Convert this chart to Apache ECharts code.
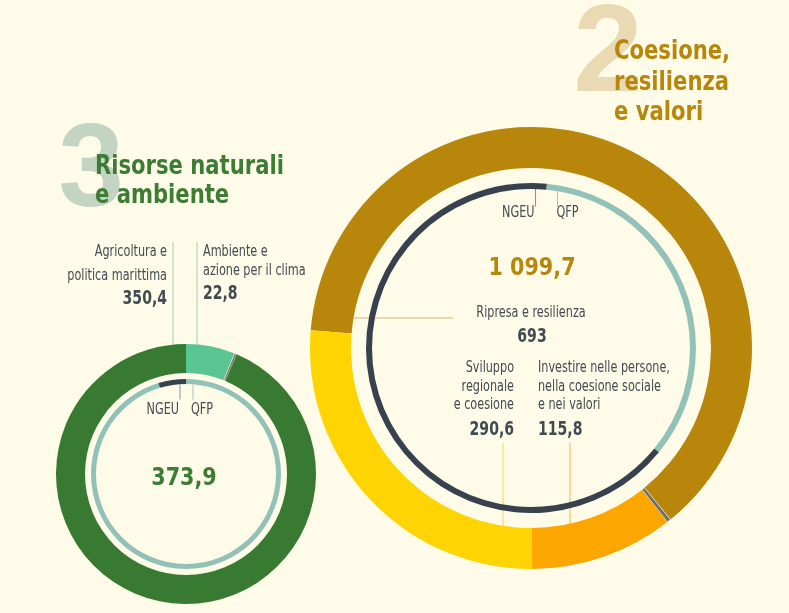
<!DOCTYPE html>
<html style="height: 100%">
<head>
    <meta charset="utf-8">
    <title>Coesione, resilienza e valori - Risorse naturali e ambiente</title>
</head>
<body style="height: 100%; margin: 0; background: #fefce8">
    <div id="container" style="width: 789px; height: 613px"></div>
    <script type="text/javascript" src="https://cdn.jsdelivr.net/npm/echarts@6/dist/echarts.min.js"></script>
    <script type="text/javascript">
        // rubrica 2 - anello esterno (miliardi di euro)
        var cohNames = ['Ripresa e resilienza', 'Altro', 'Investire nelle persone, nella coesione sociale e nei valori', 'Sviluppo regionale e coesione'];
        var cohValues = [693, 0.3, 115.8, 290.6];
        var cohTotal = 1099.7;
        // rubrica 2 - anello interno
        var cohFundNames = ['QFP', 'NGEU'];
        var cohFundValues = [377.8, 721.9];

        // rubrica 3 - anello esterno
        var natNames = ['Ambiente e azione per il clima', 'Altro', 'Agricoltura e politica marittima'];
        var natValues = [22.8, 0.7, 350.4];
        var natTotal = 373.9;
        // rubrica 3 - anello interno
        var natFundNames = ['QFP', 'NGEU'];
        var natFundValues = [356.4, 17.5];

        var dom = document.getElementById("container");
        var myChart = echarts.init(dom);

        var FONT = "'Liberation Sans Narrow', 'DejaVu Sans Condensed', 'Roboto Condensed', sans-serif";
        var WIDE = "'Liberation Sans', 'DejaVu Sans', sans-serif";
        var TXT = '#424a52';

        // geometria
        var R = {cx: 531, cy: 348, r0: 180, r1: 221, t0: 159, t1: 165, start: 175.4, fundStart: 84.5};
        var L = {cx: 186, cy: 474, r0: 101, r1: 130, t0: 90, t1: 95, start: 90, fundStart: 90};

        function fmt(v) {
            var s = String(v).replace('.', ',');
            var parts = s.split(',');
            parts[0] = parts[0].replace(/\B(?=(\d{3})+(?!\d))/g, ' ');
            return parts.join(',');
        }

        function pieData(names, values, colors) {
            return values.map(function (v, i) {
                var item = {name: names[i], value: v, itemStyle: {color: colors[i]}};
                if (names[i] === 'Altro') {
                    item.itemStyle.borderColor = '#f3f1dd';
                    item.itemStyle.borderWidth = 0.7;
                }
                return item;
            });
        }

        function ring(g, radius, start, data) {
            return {
                type: 'pie',
                center: [g.cx, g.cy],
                radius: radius,
                startAngle: start,
                clockwise: true,
                minAngle: 1,
                silent: true,
                avoidLabelOverlap: false,
                label: {show: false},
                labelLine: {show: false},
                emphasis: {disabled: true},
                data: data
            };
        }

        // testo compresso orizzontalmente (il carattere originale e' condensato)
        function txt(x, y, text, size, color, align, bold, sx, family) {
            return {
                type: 'text', x: x, y: y, scaleX: sx || 1, silent: true,
                style: {
                    text: text, fill: color, textAlign: align || 'left', textVerticalAlign: 'middle',
                    font: (bold ? 'bold ' : '') + size + 'px ' + (family || FONT)
                }
            };
        }
        function label(x, y, text, align) {
            return txt(x, y, text, 16, TXT, align, false, 0.78);
        }
        function num(x, y, text, align) {
            return txt(x, y, text, 20, TXT, align, true, 0.78);
        }
        function title(x, y, text, color) {
            return txt(x, y, text, 27, color, 'left', true, 0.87);
        }

        function line(x1, y1, x2, y2, color) {
            return {
                type: 'line', silent: true,
                shape: {x1: x1, y1: y1, x2: x2, y2: y2},
                style: {stroke: color, lineWidth: 1}
            };
        }

        // y del bordo dell'anello a distanza orizzontale dx dal centro
        function ringY(g, r, dx, sign) {
            return g.cy + sign * Math.sqrt(r * r - dx * dx);
        }

        // punto di giunzione QFP/NGEU sull'anello interno
        function junction(g, start) {
            var a = (90 - start) * Math.PI / 180;
            var r = (g.t0 + g.t1) / 2;
            return [g.cx + r * Math.sin(a), g.cy - r * Math.cos(a)];
        }

        var jr = junction(R, R.fundStart);
        var jl = junction(L, L.fundStart);

        var graphic = [
            // titoli
            txt(608, 57, '2', 125, '#eadab3', 'center', true, 1, WIDE),
            title(614, 52, 'Coesione,', '#b8860b'),
            title(614, 83, 'resilienza', '#b8860b'),
            title(614, 113, 'e valori', '#b8860b'),
            txt(91, 173, '3', 118, '#c4d4c3', 'center', true, 1, WIDE),
            title(95, 167, 'Risorse naturali', '#3c7c33'),
            title(95, 196, 'e ambiente', '#3c7c33'),

            // rubrica 2
            txt(R.cx + 1, 268, fmt(cohTotal), 25, '#b8860b', 'center', true, 0.92),
            label(jr[0] - 12, 213, cohFundNames[1], 'right'),
            label(jr[0] + 10, 213, cohFundNames[0], 'left'),
            line(jr[0] - 11, jr[1] + 2, jr[0] - 11, jr[1] + 20, '#8a9096'),
            line(jr[0] + 11, jr[1] + 2, jr[0] + 11, jr[1] + 20, '#9cc6bc'),

            label(R.cx, 313, cohNames[0], 'center'),
            num(R.cx + 1, 337, fmt(cohValues[0]), 'center'),
            line(R.cx - Math.sqrt(R.r0 * R.r0 - 30 * 30), 318, 453, 318, '#d3b77a'),

            label(514, 368, 'Sviluppo', 'right'),
            label(514, 387, 'regionale', 'right'),
            label(514, 405, 'e coesione', 'right'),
            num(514, 430, fmt(cohValues[3]), 'right'),
            line(503, 443, 503, ringY(R, R.r0, 503 - R.cx, 1), '#f3d45a'),

            label(538, 368, 'Investire nelle persone,', 'left'),
            label(538, 387, 'nella coesione sociale', 'left'),
            label(538, 405, 'e nei valori', 'left'),
            num(538, 430, fmt(cohValues[2]), 'left'),
            line(570, 443, 570, ringY(R, R.r0, 570 - R.cx, 1), '#f6b545'),

            // rubrica 3
            txt(L.cx - 2, 478, fmt(natTotal), 25, '#3c7c33', 'center', true, 0.92),
            label(jl[0] - 7, 410, natFundNames[1], 'right'),
            label(jl[0] + 5, 410, natFundNames[0], 'left'),
            line(jl[0] - 6, jl[1] + 3, jl[0] - 6, jl[1] + 18, '#8a9096'),
            line(jl[0] + 7, jl[1] + 3, jl[0] + 7, jl[1] + 18, '#9cc6bc'),

            label(167, 252, 'Agricoltura e', 'right'),
            label(167, 276, 'politica marittima', 'right'),
            num(167, 299, fmt(natValues[2]), 'right'),
            line(173, 242, 173, ringY(L, L.r1, 173 - L.cx, -1), '#a9cdb6'),

            label(203, 252, 'Ambiente e', 'left'),
            label(203, 271, 'azione per il clima', 'left'),
            num(203, 294, fmt(natValues[0]), 'left'),
            line(197, 242, 197, ringY(L, L.r1, 197 - L.cx, -1), '#a9cdb6')
        ];

        var option = {
            backgroundColor: '#fefce8',
            animation: false,
            tooltip: {show: false},
            series: [
                ring(R, [R.r0, R.r1], R.start, pieData(cohNames, cohValues, ['#b7860a', '#6e6e6e', '#fea600', '#fed402'])),
                ring(R, [R.t0, R.t1], R.fundStart, pieData(cohFundNames, cohFundValues, ['#92c2b7', '#38424e'])),
                ring(L, [L.r0, L.r1], L.start, pieData(natNames, natValues, ['#5bc592', '#6e6e6e', '#387a31'])),
                ring(L, [L.t0, L.t1], L.fundStart, pieData(natFundNames, natFundValues, ['#92c2b7', '#38424e']))
            ],
            graphic: graphic
        };

        if (option && typeof option === "object") {
            myChart.setOption(option, true);
        }
    </script>
</body>
</html>
